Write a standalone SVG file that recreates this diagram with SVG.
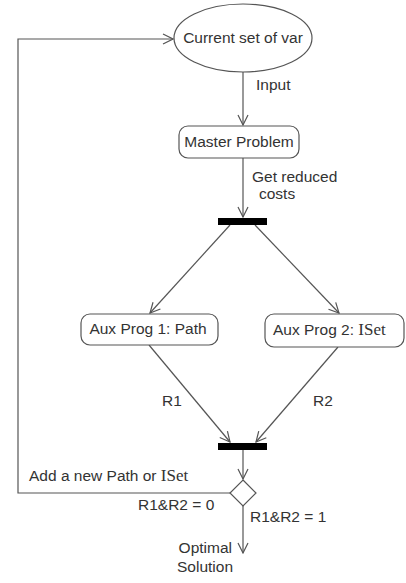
<svg xmlns="http://www.w3.org/2000/svg" width="406" height="583" viewBox="0 0 406 583">
<style>
.n{fill:#fff;stroke:#555;stroke-width:1.2}
.t{font-family:"Liberation Sans",Arial,sans-serif;font-size:15.5px;fill:#333}
.s{font-family:"Liberation Serif","Times New Roman",serif}
.c{fill:none;stroke:#555;stroke-width:1.2}
.bar{fill:#000}
</style>
<defs>
<marker id="a" markerWidth="12" markerHeight="12" refX="11" refY="6" orient="auto" markerUnits="userSpaceOnUse">
<path d="M1,1 L11,6 L1,11" fill="none" stroke="#555" stroke-width="1.2"/>
</marker>
</defs>
<rect width="406" height="583" fill="#fff"/>
<g id="connectors">
<line class="c" x1="243" y1="72" x2="243" y2="125" marker-end="url(#a)"/>
<line class="c" x1="243" y1="158" x2="243" y2="217" marker-end="url(#a)"/>
<line class="c" x1="230" y1="225" x2="150" y2="313" marker-end="url(#a)"/>
<line class="c" x1="255" y1="225" x2="339" y2="313" marker-end="url(#a)"/>
<line class="c" x1="149" y1="345" x2="230" y2="442" marker-end="url(#a)"/>
<line class="c" x1="338" y1="347" x2="256" y2="442" marker-end="url(#a)"/>
<line class="c" x1="243" y1="450" x2="243" y2="479" marker-end="url(#a)"/>
<polyline class="c" points="230,493 18,493 18,39 173,39" marker-end="url(#a)"/>
<line class="c" x1="243" y1="505" x2="243" y2="553" marker-end="url(#a)"/>
<text class="t" x="256" y="90">Input</text>
<text class="t" x="252" y="182">Get reduced</text>
<text class="t" x="259" y="199">costs</text>
<text class="t" x="162" y="406">R1</text>
<text class="t" x="313" y="406">R2</text>
<text class="t" x="29" y="481">Add a new Path or <tspan class="s" font-size="17">ISet</tspan></text>
<text class="t" x="138" y="510">R1&amp;R2 = 0</text>
<text class="t" x="250" y="522">R1&amp;R2 = 1</text>
<text class="t" x="232" y="553" text-anchor="end">Optimal</text>
<text class="t" x="177" y="572">Solution</text>
</g>
<g id="current">
<ellipse class="n" cx="243" cy="38" rx="69" ry="34"/>
<text class="t" x="243" y="43" text-anchor="middle">Current set of var</text>
</g>
<g id="master">
<rect class="n" x="179" y="126" width="120" height="32" rx="9"/>
<text class="t" x="239" y="147" text-anchor="middle">Master Problem</text>
</g>
<g id="fork">
<rect class="bar" x="218" y="218" width="49" height="7"/>
</g>
<g id="aux1">
<rect class="n" x="81" y="314" width="137" height="31" rx="9"/>
<text class="t" x="148" y="334" text-anchor="middle">Aux Prog 1: Path</text>
</g>
<g id="aux2">
<rect class="n" x="265" y="314" width="139" height="33" rx="9"/>
<text class="t" x="273" y="335">Aux Prog 2: <tspan class="s" font-size="17">ISet</tspan></text>
</g>
<g id="join">
<rect class="bar" x="218" y="443" width="49" height="7"/>
</g>
<g id="decision">
<polygon class="n" points="243,480 256,493 243,506 230,493"/>
</g>
</svg>
